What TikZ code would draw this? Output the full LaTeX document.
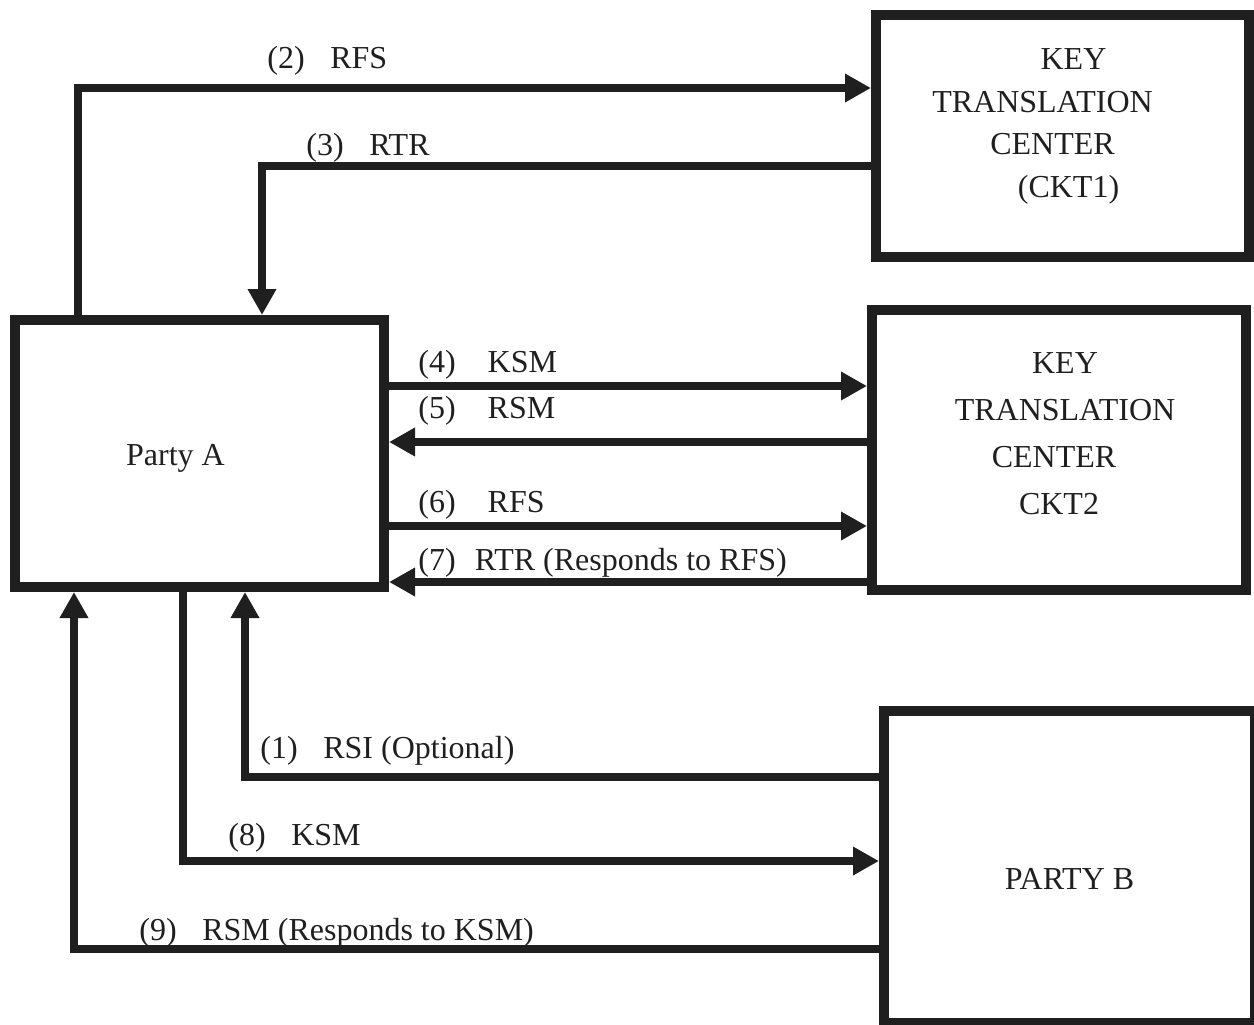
\documentclass[tikz,border=0pt]{standalone}
\usepackage{fontspec}
\setmainfont{Liberation Serif}
\usetikzlibrary{arrows.meta}

\begin{document}
\begin{tikzpicture}[x=0.5pt,y=-0.5pt,color=black!88,
    font=\fontsize{16}{21}\selectfont,
    box/.style={draw, line width=5pt, inner sep=0pt},
    msg/.style={line width=4.2pt, -{Triangle[length=13pt,width=13.5pt]}},
    lbl/.style={anchor=base west, inner sep=0pt}]

\useasboundingbox (0,0) rectangle (1254,1024);

% Centers
\node[box, minimum width=186.5pt, minimum height=121pt,
      label={[name=k1txt, align=center, font=\fontsize{16}{21.2}\selectfont,
              xshift=-10pt, yshift=4.75pt]center:\hspace*{31pt}KEY\\TRANSLATION\\\hspace*{10pt}CENTER\\\hspace*{26pt}(CKT1)}]
      (k1) at (1062.5,136) {};

\node[box, minimum width=187pt, minimum height=140pt,
      label={[name=k2txt, align=center, font=\fontsize{16}{23.6}\selectfont,
              xshift=-2.5pt, yshift=8.25pt]center:\hspace*{11pt}KEY\\\hspace*{11pt}TRANSLATION\\CENTER\\\hspace*{5pt}CKT2}]
      (k2) at (1059,450) {};

% Parties
\node[box, minimum width=184.5pt, minimum height=133.5pt,
      label={[name=patxt, xshift=-12pt, yshift=-2.25pt]center:Party A}]
      (pa) at (199.5,453.5) {};

\node[box, minimum width=185.5pt, minimum height=156pt,
      label={[name=pbtxt, yshift=-6pt]center:PARTY B}]
      (pb) at (1069.5,867) {};

% Bends and levels
\coordinate (c2) at (78,88);
\coordinate (c3) at (262,166);
\coordinate (y4) at (0,386);
\coordinate (y5) at (0,442);
\coordinate (y6) at (0,526);
\coordinate (y7) at (0,582);
\coordinate (c1) at (245,777);
\coordinate (c8) at (183,861);
\coordinate (c9) at (74,949);

% A <-> CKT1
\draw[msg] (pa.north -| c2) |- (k1.west |- c2);
\draw[msg] (k1.west |- c3) -| (pa.north -| c3);

% A <-> CKT2
\draw[msg] (pa.east |- y4) -- (k2.west |- y4);
\draw[msg] (k2.west |- y5) -- (pa.east |- y5);
\draw[msg] (pa.east |- y6) -- (k2.west |- y6);
\draw[msg] (k2.west |- y7) -- (pa.east |- y7);

% A <-> B
\draw[msg] (pb.west |- c1) -| (pa.south -| c1);
\draw[msg] (pa.south -| c8) |- (pb.west |- c8);
\draw[msg] (pb.west |- c9) -| (pa.south -| c9);

% Messages
\node[lbl] (l2) at (267,68) {(2)\hspace{0.8em}RFS};
\node[lbl] (l3) at (306,155) {(3)\hspace{0.8em}RTR};
\node[lbl] (l4) at (418,372) {(4)\quad KSM};
\node[lbl] (l5) at (418,418) {(5)\quad RSM};
\node[lbl] (l6) at (418,512) {(6)\quad RFS};
\node[lbl] (l7) at (418,570) {(7)\hspace{0.6em}RTR (Responds to RFS)};
\node[lbl] (l1) at (260,758) {(1)\hspace{0.8em}RSI (Optional)};
\node[lbl] (l8) at (228,845) {(8)\hspace{0.8em}KSM};
\node[lbl] (l9) at (139,940) {(9)\hspace{0.8em}RSM (Responds to KSM)};

\end{tikzpicture}
\end{document}
